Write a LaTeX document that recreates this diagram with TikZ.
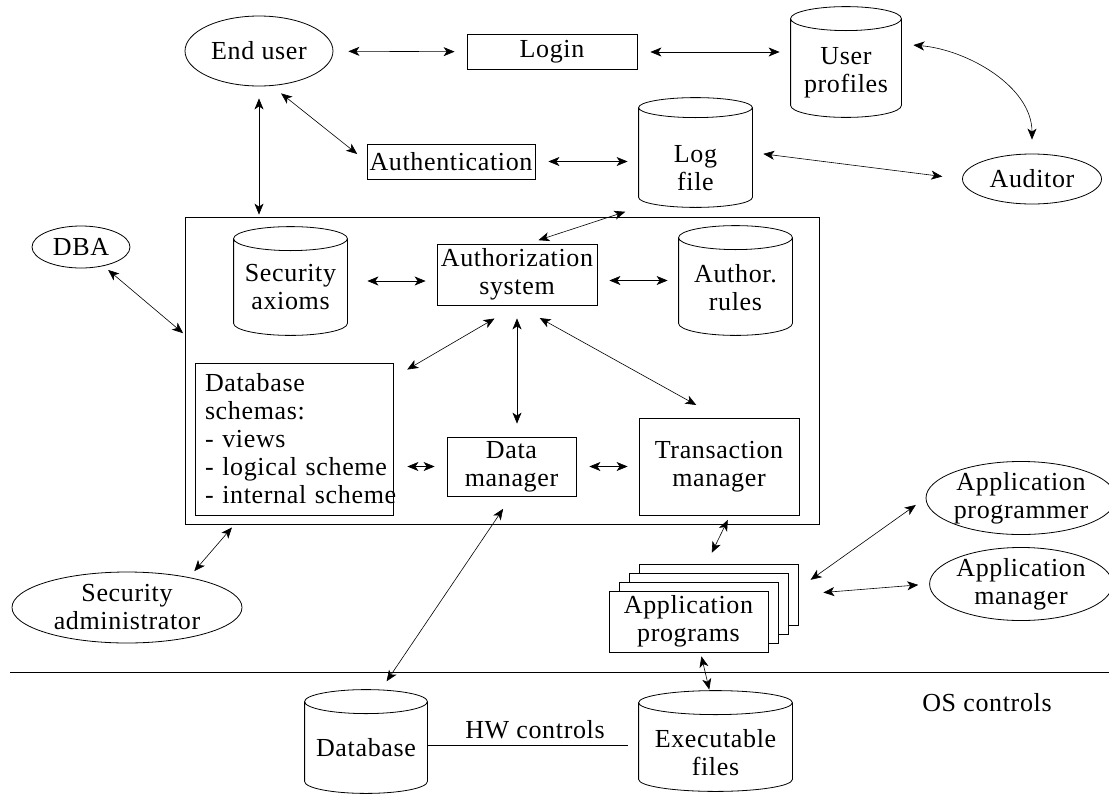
\documentclass[tikz,border=0pt]{standalone}
\usepackage{fontspec}
\setmainfont[LetterSpace=2.5]{Liberation Serif}
\usetikzlibrary{shapes.geometric,arrows.meta,calc}

\begin{document}
\begin{tikzpicture}[x=1pt,y=-1pt,line width=0.8pt,
  font=\fontsize{26}{28}\selectfont,
  >={Stealth[length=11pt,width=9pt,inset=3pt]},
  box/.style={draw,rectangle,inner sep=0pt,align=center},
  actor/.style={draw,ellipse,inner sep=0pt,align=center},
  store/.style={rectangle,inner sep=0pt},
  storetext/.style={align=center},
  link/.style={<->,line width=0.6pt}]
\useasboundingbox (0,0) rectangle (1109,793);
\node[actor,minimum width=148pt,minimum height=70pt] (enduser) at (259,51) {End user};
\node[box,minimum width=170pt,minimum height=35pt] (login) at (552,52) {Login};
\node[store,minimum width=110pt,minimum height=110pt,label={[storetext,yshift=-11pt]center:User\\profiles}] (userprof) at (846,62) {};
\node[box,minimum width=168pt,minimum height=35pt] (authent) at (451,161.5) {Authentication};
\node[store,minimum width=113pt,minimum height=109pt,label={[storetext,yshift=-16pt]center:Log\\file}] (logfile) at (695.5,152.5) {};
\node[actor,minimum width=139pt,minimum height=50pt] (auditor) at (1032,179) {Auditor};
\node[box,minimum width=634pt,minimum height=307pt] (sysbox) at (502,370.5) {};
\node[actor,minimum width=98pt,minimum height=42pt] (dba) at (81,247) {DBA};
\node[store,minimum width=113pt,minimum height=108pt,label={[storetext,yshift=-6pt]center:Security\\axioms}] (secax) at (290.5,281) {};
\node[box,minimum width=160pt,minimum height=61pt] (authsys) at (517,274.5) {Authorization\\system};
\node[store,minimum width=113pt,minimum height=109pt,label={[storetext,yshift=-7pt]center:Author.\\rules}] (authrules) at (735.5,280.5) {};
\node[box,minimum width=198pt,minimum height=152pt,inner xsep=10pt,text width=178pt,align=left] (schemas) at (294,439)
  {\mbox{Database}\\\mbox{schemas:}\\\mbox{- views}\\\mbox{- logical scheme}\\\mbox{- internal scheme}};
\node[box,minimum width=129pt,minimum height=59pt] (dataman) at (511.5,466.5) {Data\\manager};
\node[box,minimum width=160pt,minimum height=97pt] (transman) at (719,466.5) {Transaction\\manager};
\foreach \k in {3,2,1}
  \node[box,fill=white,minimum width=159pt,minimum height=61pt] (appprog\k) at ({688.5+10*\k},{621.5-9*\k}) {};
\node[box,fill=white,minimum width=159pt,minimum height=61pt] (appprog) at (688.5,621.5) {Application\\programs};
\node[actor,minimum width=176pt,minimum height=70pt] (appprogr) at (1021,498) {Application\\programmer};
\node[actor,minimum width=176pt,minimum height=60pt] (appman) at (1021,584) {Application\\manager};
\node[actor,minimum width=230pt,minimum height=71pt] (secadm) at (127,607.5) {Security\\administrator};
\node[store,minimum width=122pt,minimum height=103pt,label={[storetext,yshift=-6pt]center:Database}] (database) at (366,741.5) {};
\node[store,minimum width=153pt,minimum height=100pt,label={[storetext,yshift=-12pt]center:Executable\\files}] (execfiles) at (715.5,741) {};
\node (hwlbl) at (535,730) {HW controls};
\node (oslbl) at (987,703) {OS controls};
\coordinate (sepl) at (10,672);
\coordinate (sepr) at (1109,672);
\coordinate (hwend) at (628,745);

\foreach \cyl/\ry in {userprof/12,logfile/10,secax/12,authrules/12,database/12,execfiles/12}
  \draw let \p1=(\cyl.north west), \p2=(\cyl.north east), \n1={(\x2-\x1)/2} in
    ([yshift=-\ry pt]\cyl.north west) -- ([yshift=\ry pt]\cyl.south west)
    arc[start angle=180,end angle=360,x radius=\n1,y radius=\ry pt]
    -- ([yshift=-\ry pt]\cyl.north east)
    arc[start angle=0,end angle=360,x radius=\n1,y radius=\ry pt];

\draw (sepl) -- (sepr);
\draw (database.east |- hwend) -- (hwend);

\draw[link,shorten <=15pt,shorten >=12pt] (enduser) -- (login);
\draw[link,shorten <=13pt,shorten >=11pt] (login.east) -- (login.east -| userprof.west);
\draw[link,shorten <=12pt,shorten >=14pt] ([yshift=18pt]userprof.east) to[out=-5,in=90] (auditor.north);
\draw[link,shorten <=12pt,shorten >=2pt] (enduser.south) -- (enduser.south |- sysbox.north);
\draw[link,shorten <=12pt,shorten >=12pt] (enduser.-70) -- (authent.west);
\draw[link,shorten <=13pt,shorten >=11pt] (authent.east) -- (authent.east -| logfile.west);
\draw[link,shorten <=11pt,shorten >=20pt] (logfile.east) -- (auditor.west);
\draw[link,shorten <=11pt,shorten >=14pt] ([xshift=11pt]authsys.north) -- (logfile.south west);
\draw[link,shorten <=6pt,shorten >=2pt] (dba) -- ([yshift=36pt]sysbox.west);
\draw[link,shorten <=20pt,shorten >=11pt] (secax.east) -- (secax.east -| authsys.west);
\draw[link,shorten <=12pt,shorten >=11pt] (authsys.east |- authrules.west) -- (authrules.west);
\draw[link,shorten <=26pt,shorten >=16pt] (authsys.south) -- ([yshift=-15pt]schemas.north east);
\draw[link,shorten <=13pt,shorten >=13pt] (authsys.south) -- (authsys.south |- dataman.north);
\draw[link,shorten <=26pt,shorten >=26pt] (authsys.south) -- (transman.north);
\draw[link,shorten <=14pt,shorten >=12pt] (dataman.west -| schemas.east) -- (dataman.west);
\draw[link,shorten <=13pt,shorten >=11pt] (dataman.east) -- (transman.west);
\draw[link,shorten <=15pt,shorten >=10pt] (dataman.south) -- ([xshift=15pt]database.north);
\draw[link,shorten <=4pt,shorten >=8pt] ([xshift=50pt]sysbox.south west) -- (secadm.26);
\draw[link,shorten <=5pt,shorten >=12pt] ([xshift=11pt]transman.south) -- ([xshift=-12pt]appprog3.north);
\draw[link,shorten <=4pt,shorten >=1pt] ([xshift=12pt]appprog.south) -- ([xshift=-6pt]execfiles.north);
\draw[link,shorten <=15pt,shorten >=12pt] ([yshift=6pt]appprog3.east) -- (appprogr.west);
\draw[link,shorten <=25pt,shorten >=11pt] (appprog3.east) -- (appman.west);
\end{tikzpicture}
\end{document}
